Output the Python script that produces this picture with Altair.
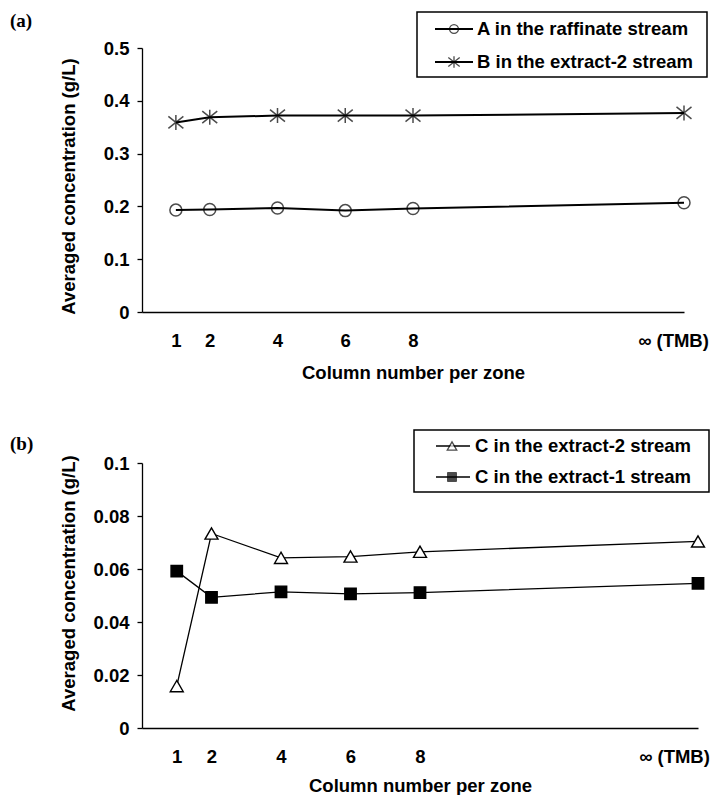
import altair as alt
import pandas as pd

# ---------------- data ----------------
x_pos = [1, 2, 4, 6, 8, 16]
inf_label = "∞ (TMB)"

a_series = ["A in the raffinate stream", "B in the extract-2 stream"]
a_raffinate = [0.193, 0.194, 0.197, 0.192, 0.196, 0.207]
b_extract2 = [0.359, 0.369, 0.372, 0.372, 0.372, 0.377]

b_series = ["C in the extract-2 stream", "C in the extract-1 stream"]
c_extract2 = [0.0158, 0.0734, 0.0642, 0.0647, 0.0665, 0.0704]
c_extract1 = [0.0592, 0.0493, 0.0514, 0.0506, 0.0511, 0.0546]

y_ticks_a = [0, 0.1, 0.2, 0.3, 0.4, 0.5]
y_ticks_b = [0, 0.02, 0.04, 0.06, 0.08, 0.1]
panel_tags = ["(a)", "(b)"]
x_title = "Column number per zone"
y_title = "Averaged concentration (g/L)"

STAR = "M0,-1L0,1M-1,-0.8L1,0.8M-1,0.8L1,-0.8"
FONT = "Liberation Sans"


def long_df(series, values_list):
    rows = []
    for s, vals in zip(series, values_list):
        for x, v in zip(x_pos, vals):
            rows.append({"x": x, "value": v, "series": s})
    return pd.DataFrame(rows)


def x_axis(inf_offset, label_pad, title_pad):
    return alt.Axis(
        values=x_pos,
        labelExpr=f"datum.value == 16 ? '{inf_label}' : datum.label",
        ticks=False, grid=False,
        domainColor="black", domainWidth=1.3,
        labelFont=FONT, labelFontSize=18.5, labelFontWeight="bold", labelColor="black",
        labelPadding=label_pad,
        labelOffset={"condition": {"test": "datum.value == 16", "value": inf_offset}, "value": 0},
        labelFlush=False, labelOverlap=False,
        title=x_title, titleFont=FONT, titleFontSize=18.5, titleFontWeight="bold",
        titleColor="black", titlePadding=title_pad,
    )


def y_axis(ticks, fmt, title_y):
    return alt.Axis(
        values=ticks, format=fmt, grid=False,
        tickSize=5, tickColor="black", tickWidth=1.3,
        domainColor="black", domainWidth=1.3,
        labelFont=FONT, labelFontSize=18.5, labelFontWeight="bold", labelColor="black",
        labelPadding=8,
        title=y_title, titleFont=FONT, titleFontSize=18.5, titleFontWeight="bold",
        titleColor="black", titleX=-64, titleY=title_y,
    )


def legend_layers(series, markers, box, rows, line_x, mark_x, text_x, lw):
    layers = [
        alt.Chart(pd.DataFrame({"k": [0]})).mark_rect(
            fill="white", stroke="black", strokeWidth=1.5
        ).encode(x=alt.value(box[0]), x2=alt.value(box[1]),
                 y=alt.value(box[2]), y2=alt.value(box[3]))
    ]
    for s, ry, mk in zip(series, rows, markers):
        d = pd.DataFrame({"label": [s]})
        layers.append(
            alt.Chart(d).mark_rule(color="black", strokeWidth=lw).encode(
                x=alt.value(line_x[0]), x2=alt.value(line_x[1]), y=alt.value(ry))
        )
        layers.append(
            alt.Chart(d).mark_point(**mk).encode(x=alt.value(mark_x), y=alt.value(ry))
        )
        layers.append(
            alt.Chart(d).mark_text(
                align="left", baseline="middle", font=FONT, fontSize=18.5,
                fontWeight="bold", color="black"
            ).encode(x=alt.value(text_x), y=alt.value(ry), text="label:N")
        )
    return layers


def tag_layer(tag, y):
    return alt.Chart(pd.DataFrame({"tag": [tag]})).mark_text(
        font="Liberation Serif", fontSize=19, fontWeight="bold",
        align="left", baseline="middle", color="black"
    ).encode(x=alt.value(-132), y=alt.value(y), text="tag:N")


# ---------------- panel (a) ----------------
df_a = long_df(a_series, [a_raffinate, b_extract2])
xa = alt.X("x:Q", scale=alt.Scale(domain=[0, 16], nice=False, zero=False),
           axis=x_axis(-11, 19, 14))
ya = alt.Y("value:Q", scale=alt.Scale(domain=[0, 0.5], nice=False),
           axis=y_axis(y_ticks_a, ".1~f", 138))
lines_a = alt.Chart(df_a).mark_line(color="black", strokeWidth=2).encode(
    x=xa, y=ya, detail="series:N")
pts_a = alt.Chart(df_a).mark_point(
    filled=False, color="black", strokeWidth=1.5
).encode(
    x=xa, y=ya,
    shape=alt.Shape("series:N", scale=alt.Scale(domain=a_series, range=["circle", STAR]), legend=None),
    size=alt.Size("series:N", scale=alt.Scale(domain=a_series, range=[144, 225]), legend=None),
)
leg_a = legend_layers(
    a_series,
    [dict(shape="circle", size=80, filled=False, color="black", strokeWidth=1.3),
     dict(shape=STAR, size=130, filled=False, color="black", strokeWidth=1.3)],
    box=(275, 565, -36, 29), rows=(-19, 14), line_x=(293, 331), mark_x=312, text_x=335, lw=2,
)
panel_a = alt.layer(lines_a, pts_a, *leg_a, tag_layer(panel_tags[0], -27)).properties(
    width=542, height=264)

# ---------------- panel (b) ----------------
df_b = long_df(b_series, [c_extract2, c_extract1])
xb = alt.X("x:Q", scale=alt.Scale(domain=[0, 16], nice=False, zero=False),
           axis=x_axis(-24, 19, 11))
yb = alt.Y("value:Q", scale=alt.Scale(domain=[0, 0.1], nice=False),
           axis=y_axis(y_ticks_b, ".2~f", 120))
lines_b = alt.Chart(df_b).mark_line(color="black", strokeWidth=1.3).encode(
    x=xb, y=yb, detail="series:N")
pts_b = alt.Chart(df_b).mark_point(
    filled=True, stroke="black", strokeWidth=1.4, opacity=1
).encode(
    x=xb, y=yb,
    shape=alt.Shape("series:N", scale=alt.Scale(domain=b_series, range=["triangle-up", "square"]), legend=None),
    fill=alt.Fill("series:N", scale=alt.Scale(domain=b_series, range=["white", "black"]), legend=None),
    size=alt.Size("series:N", scale=alt.Scale(domain=b_series, range=[169, 130]), legend=None),
)
leg_b = legend_layers(
    b_series,
    [dict(shape="triangle-up", size=90, filled=True, fill="white", stroke="black", strokeWidth=1.3),
     dict(shape="square", size=80, filled=True, fill="black", stroke="black", strokeWidth=1)],
    box=(272, 567, -33, 29), rows=(-17, 14), line_x=(294, 328), mark_x=310, text_x=333, lw=1.3,
)
panel_b = alt.layer(lines_b, pts_b, *leg_b, tag_layer(panel_tags[1], -19)).properties(
    width=556, height=265)

chart = alt.vconcat(panel_a, panel_b, spacing=47).resolve_scale(
    x="independent", y="independent",
    shape="independent", size="independent", fill="independent",
).properties(
    padding={"left": 10, "top": 11, "right": 0, "bottom": 0},
    background="white",
).configure_view(stroke=None)

chart.save("out.html", embed_options={"renderer": "svg", "actions": False})
